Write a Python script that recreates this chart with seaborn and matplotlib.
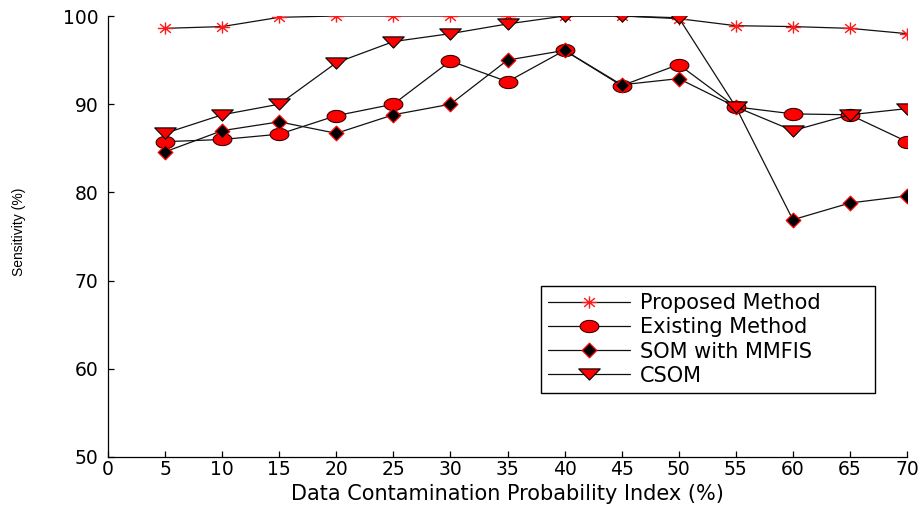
import numpy as np
import pandas as pd
import matplotlib
matplotlib.use("Agg")
import matplotlib.pyplot as plt
from matplotlib.path import Path
import seaborn as sns

# Contamination probability index (%)
contamination = [5, 10, 15, 20, 25, 30, 35, 40, 45, 50, 55, 60, 65, 70]

# Sensitivity (%) for each method
proposed = [98.6, 98.8, 99.85, 100.0, 100.0, 100.0, 100.0, 100.0, 100.0, 99.7, 98.9, 98.8, 98.6, 98.0]
existing = [85.75, 86.0, 86.6, 88.7, 90.0, 94.9, 92.55, 96.1, 92.1, 94.5, 89.7, 88.9, 88.8, 85.75]
som_mmfis = [84.6, 87.0, 88.0, 86.7, 88.8, 90.0, 95.0, 96.1, 92.2, 92.9, 89.7, 76.9, 78.8, 79.6]
csom = [86.7, 88.8, 90.0, 94.7, 97.1, 98.0, 99.1, 100.0, 100.0, 99.8, 89.7, 87.0, 88.8, 89.5]

series_names = ["Proposed Method", "Existing Method", "SOM with MMFIS", "CSOM"]
x_ticks = list(range(0, 75, 5))
y_ticks = list(range(50, 110, 10))

df = pd.DataFrame({
    "x": contamination * 4,
    "y": proposed + existing + som_mmfis + csom,
    "method": sum([[n] * len(contamination) for n in series_names], []),
})

# Marker shapes (slightly wide, as drawn in the original figure)
t = np.linspace(0, 2 * np.pi, 48)
ellipse = Path(np.column_stack([np.cos(t), 0.65 * np.sin(t)]), closed=True)
diamond = Path([(0, 1), (1, 0), (0, -1), (-1, 0), (0, 1)], closed=True)
tri_down = Path([(-1, 0.52), (1, 0.52), (0, -0.52), (-1, 0.52)], closed=True)
d = 0.707
asterisk = Path(
    [(-1, 0), (1, 0), (0, -0.8), (0, 0.8),
     (-d, -0.57), (d, 0.57), (-d, 0.57), (d, -0.57)],
    [Path.MOVETO, Path.LINETO] * 4,
)

styles = {
    "Proposed Method": dict(marker=asterisk, markersize=11.0, markerfacecolor="none",
                            markeredgecolor="#ff1a1a", markeredgewidth=1.0),
    "Existing Method": dict(marker=ellipse, markersize=13.5, markerfacecolor="#ff0000",
                            markeredgecolor="#3a0000", markeredgewidth=0.8),
    "SOM with MMFIS": dict(marker=diamond, markersize=10.5, markerfacecolor="#000000",
                           markeredgecolor="#ff0000", markeredgewidth=0.9),
    "CSOM": dict(marker=tri_down, markersize=15.5, markerfacecolor="#ff0000",
                 markeredgecolor="#000000", markeredgewidth=0.8),
}

sns.set_style("ticks")
plt.rcParams["font.family"] = ["DejaVu Sans"]
plt.rcParams["text.color"] = "black"
plt.rcParams["axes.labelcolor"] = "black"

fig = plt.figure(figsize=(9.22, 5.09), dpi=100)
ax = fig.add_axes([108 / 922, 1 - 457 / 509, 799 / 922, 441 / 509])

for name in series_names:
    sub = df[df["method"] == name]
    sns.lineplot(data=sub, x="x", y="y", ax=ax, color="#111111", linewidth=0.9,
                 label=name, **styles[name])

ax.set_xlim(0, 70)
ax.set_ylim(50, 100)
ax.set_xticks(x_ticks)
ax.set_yticks(y_ticks)
ax.tick_params(axis="both", direction="in", length=4, width=0.9, colors="black",
               labelcolor="black", labelsize=13.5)
ax.tick_params(axis="x", pad=2)
ax.tick_params(axis="y", pad=7)
for s in ["top", "right"]:
    ax.spines[s].set_visible(False)
for s in ["left", "bottom"]:
    ax.spines[s].set_color("black")
    ax.spines[s].set_linewidth(0.9)

ax.set_xlabel("Data Contamination Probability Index (%)", fontsize=15, color="black")
ax.xaxis.set_label_coords(0.5, -0.062)
ax.set_ylabel("Sensitivity (%)", fontsize=10, family=["Liberation Sans"], color="black")
ax.yaxis.set_label_coords(-0.103, 0.51)

leg = ax.legend(loc="upper left",
                bbox_to_anchor=(541 / 922, 1 - 392 / 509, 334 / 922, 106 / 509),
                bbox_transform=fig.transFigure, mode="expand", borderaxespad=0,
                fontsize=15, frameon=True, fancybox=False, shadow=False, framealpha=1,
                edgecolor="black", handlelength=3.9, handletextpad=0.5,
                labelspacing=0.2, borderpad=0.35)
leg.get_frame().set_linewidth(1.0)
for txt in leg.get_texts():
    txt.set_color("black")

fig.savefig("out.png", dpi=100)
